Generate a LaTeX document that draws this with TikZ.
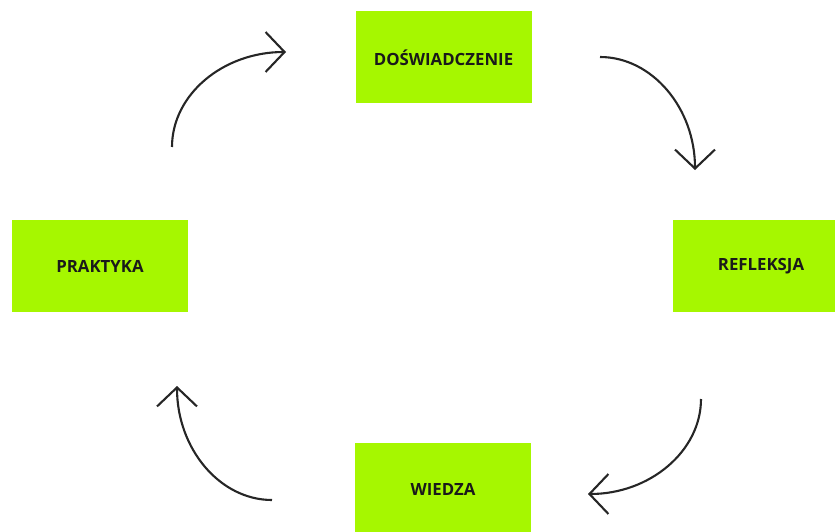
\documentclass[tikz,border=0pt]{standalone}
\usepackage{fontspec}
\setmainfont{Open Sans}
\usetikzlibrary{arrows.meta}
\definecolor{lime}{RGB}{166,247,0}
\definecolor{txt}{RGB}{26,26,26}
\tikzset{
  stage/.style={fill=lime, draw=none, minimum width=176pt, minimum height=92pt, inner sep=0pt,
    text=txt, font=\bfseries\fontsize{16.8}{18}\selectfont},
  cyc/.style={line width=2.1pt, draw=black!85, -{Straight Barb[length=19pt,width=40pt,line width=2.1pt]}}
}
\begin{document}
\begin{tikzpicture}[x=1pt,y=-1pt]
\useasboundingbox (0,0) rectangle (835,532);
\node[stage] (dos) at (443.5,57.5) {DOŚWIADCZENIE};
\node[stage] (ref) at (761,266) {REFLEKSJA};
\node[stage] (wie) at (443,489) {WIEDZA};
\node[stage] (pra) at (100,266) {PRAKTYKA};
\coordinate (a1s) at (172,147); \coordinate (a1e) at (286,52);
\coordinate (a2s) at (600,57);  \coordinate (a2e) at (695,170);
\coordinate (a3s) at (701,399); \coordinate (a3e) at (588,494);
\coordinate (a4s) at (272,500); \coordinate (a4e) at (177,386);
\draw[cyc] (a1s) .. controls (172,94.6) and (223,52) .. (a1e);
\draw[cyc] (a2s) .. controls (652,57) and (695,108) .. (a2e);
\draw[cyc] (a3s) .. controls (701,451) and (650,494) .. (a3e);
\draw[cyc] (a4s) .. controls (220,500) and (177,449) .. (a4e);
\end{tikzpicture}
\end{document}
